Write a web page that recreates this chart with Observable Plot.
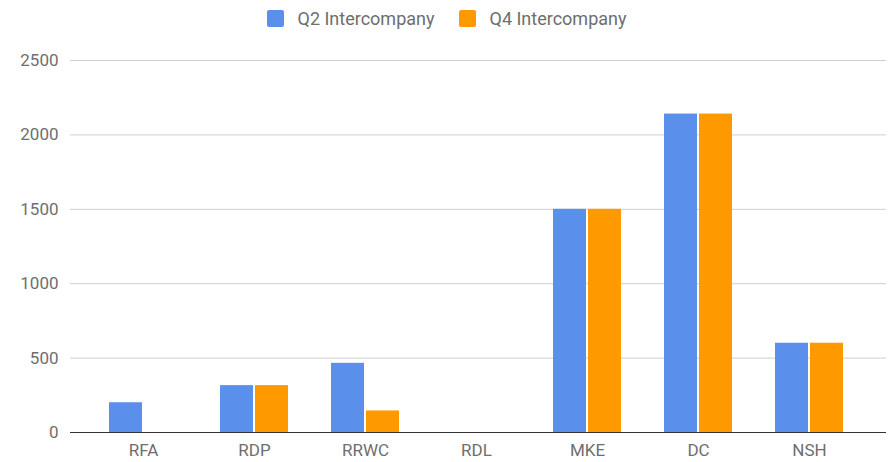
<!DOCTYPE html>
<html>
<head>
<meta charset="utf-8">
<script src="https://cdn.jsdelivr.net/npm/d3@7"></script>
<script src="https://cdn.jsdelivr.net/npm/@observablehq/plot@0.6"></script>
<style>
  html, body { margin: 0; padding: 0; background: #fff; }
  body { width: 893px; height: 462px; overflow: hidden; font-family: Roboto, "Noto Sans", sans-serif; }
  .legend { height: 36px; display: flex; align-items: center; justify-content: center; box-sizing: border-box; font-size: 18px; color: #6e6e6e; }
  .legend .item { display: flex; align-items: center; margin: 0 12px; }
  .legend .swatch { width: 17px; height: 17px; border-radius: 2px; margin-right: 14px; }
  svg { display: block; }
</style>
</head>
<body>
<div class="legend" id="legend"></div>
<div id="chart"></div>
<script>
// Sites on the x axis
const categories = ["RFA", "RDP", "RRWC", "RDL", "MKE", "DC", "NSH"];
// Intercompany totals per site
const q2Values = [200, 315, 465, 0, 1500, 2140, 600];
const q4Values = [0, 315, 145, 0, 1500, 2140, 600];
// Series names and y ticks
const seriesNames = ["Q2 Intercompany", "Q4 Intercompany"];
const yTicks = [0, 500, 1000, 1500, 2000, 2500];

const colors = ["#5a90ec", "#ff9900"];

const q2 = categories.map((c, i) => ({site: c, value: q2Values[i]}));
const q4 = categories.map((c, i) => ({site: c, value: q4Values[i]}));

// Legend above the chart
const legend = document.getElementById("legend");
seriesNames.forEach((name, i) => {
  const item = document.createElement("div");
  item.className = "item";
  const sw = document.createElement("span");
  sw.className = "swatch";
  sw.style.background = colors[i];
  const label = document.createElement("span");
  label.textContent = name;
  item.append(sw, label);
  legend.append(item);
});

const chart = Plot.plot({
  width: 893,
  height: 426,
  marginTop: 24,
  marginBottom: 30,
  marginLeft: 70,
  marginRight: 7,
  style: {fontFamily: "Roboto, 'Noto Sans', sans-serif", fontSize: "17px", color: "#6e6e6e", background: "#fff"},
  x: {
    domain: categories,
    paddingInner: 0.385,
    paddingOuter: 0.1925,
    insetLeft: 16,
    insetRight: 20,
    label: null,
    tickSize: 0,
    tickPadding: 11
  },
  y: {
    domain: [0, 2500],
    ticks: yTicks,
    tickFormat: d => String(d),
    label: null,
    tickSize: 0,
    tickPadding: 12
  },
  marks: [
    Plot.ruleY(yTicks.filter(d => d > 0), {stroke: "#cfcfcf", strokeWidth: 1}),
    // Q2 bar sits in the left half of each group, Q4 in the right half
    Plot.barY(q2, {x: "site", y: "value", fill: colors[0], insetRight: 35}),
    Plot.barY(q4, {x: "site", y: "value", fill: colors[1], insetLeft: 35}),
    Plot.ruleY([0], {stroke: "#333", strokeWidth: 1.2})
  ]
});
document.getElementById("chart").append(chart);
</script>
</body>
</html>
